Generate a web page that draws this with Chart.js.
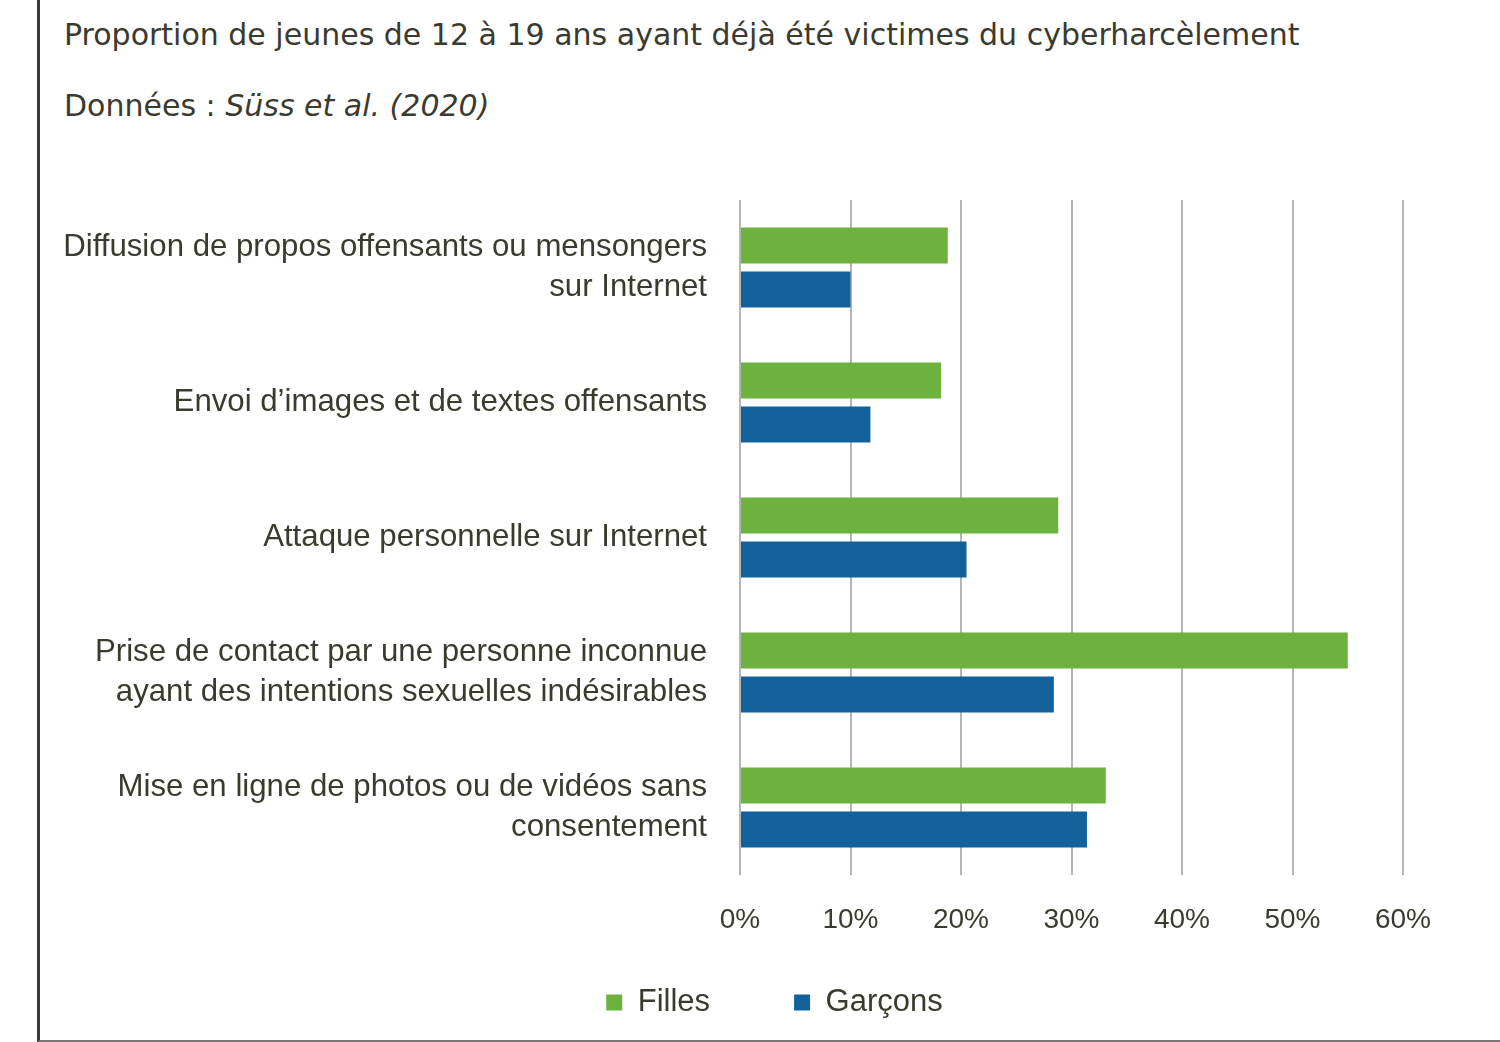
<!DOCTYPE html>
<html>
<head>
<meta charset="utf-8">
<script src="https://cdn.jsdelivr.net/npm/chart.js@4/dist/chart.umd.min.js"></script>
<style>
  html, body { margin: 0; padding: 0; background: #fff; }
  #wrap { position: relative; width: 1500px; height: 1042px; overflow: hidden; }
  #frame { position: absolute; left: 37px; top: 0; width: 1470px; height: 1042px;
           border-left: 3px solid #3a3a3a; border-bottom: 2px solid #777; box-sizing: border-box; }
  .t { position: absolute; left: 64px; font-family: "DejaVu Sans", sans-serif; font-size: 30px; color: #3b3a2f; white-space: nowrap; }
  #title { top: 17px; }
  #sub { top: 88px; }
  canvas { position: absolute; left: 0; top: 0; }
</style>
</head>
<body>
<div id="wrap">
  <div id="frame"></div>
  <div class="t" id="title">Proportion de jeunes de 12 à 19 ans ayant déjà été victimes du cyberharcèlement</div>
  <div class="t" id="sub">Données : <i>Süss et al. (2020)</i></div>
  <canvas id="c" width="1500" height="1042"></canvas>
</div>
<script>
const categories = [
  ['Diffusion de propos offensants ou mensongers', 'sur Internet'],
  ['Envoi d\u2019images et de textes offensants'],
  ['Attaque personnelle sur Internet'],
  ['Prise de contact par une personne inconnue', 'ayant des intentions sexuelles indésirables'],
  ['Mise en ligne de photos ou de vidéos sans', 'consentement']
];
const filles = [18.8, 18.2, 28.8, 55.0, 33.1];
const garcons = [10.0, 11.8, 20.5, 28.4, 31.4];
const seriesNames = ['Filles', 'Garçons'];
const xTicks = [0, 10, 20, 30, 40, 50, 60];

const textColor = '#3b3a2f';
const fam = '"Liberation Sans", Arial, sans-serif';

// shift the bottom legend so it sits centred under the plot like the original
const legendShift = {
  id: 'legendShift',
  afterLayout(chart) {
    const lg = chart.legend;
    if (!lg) return;
    lg.left += 53; lg.right += 53;
    lg.top -= 47; lg.bottom -= 47;
  }
};

new Chart(document.getElementById('c'), {
  type: 'bar',
  data: {
    labels: categories,
    datasets: [
      { label: seriesNames[0], data: filles, backgroundColor: '#6db13f', borderWidth: 0,
        categoryPercentage: 0.65, barPercentage: 0.82 },
      { label: seriesNames[1], data: garcons, backgroundColor: '#12619a', borderWidth: 0,
        categoryPercentage: 0.65, barPercentage: 0.82 }
    ]
  },
  options: {
    indexAxis: 'y',
    responsive: false,
    devicePixelRatio: 1,
    animation: false,
    layout: { padding: { left: 40, right: 97, top: 200, bottom: -33 } },
    scales: {
      x: {
        min: 0, max: 60,
        afterBuildTicks: (s) => { s.ticks = xTicks.map(v => ({ value: v })); },
        afterFit: (s) => { s.height = 75; },
        ticks: { color: textColor, font: { family: fam, size: 28 },
                 padding: 28, callback: v => v + '%' },
        grid: { color: '#b5b5b5', lineWidth: 2, drawTicks: false },
        border: { display: false }
      },
      y: {
        afterFit: (s) => { s.width = 740 - 40; },
        ticks: { color: textColor, font: { family: fam, size: 31.2, lineHeight: 1.28 }, padding: 33 },
        grid: { display: false, drawTicks: false },
        border: { display: false }
      }
    },
    plugins: {
      title: { display: false },
      tooltip: { enabled: false },
      legend: {
        position: 'bottom',
        labels: { color: textColor, font: { family: fam, size: 31 },
                  boxWidth: 16, boxHeight: 16, padding: 84 }
      }
    }
  },
  plugins: [legendShift]
});
</script>
</body>
</html>
